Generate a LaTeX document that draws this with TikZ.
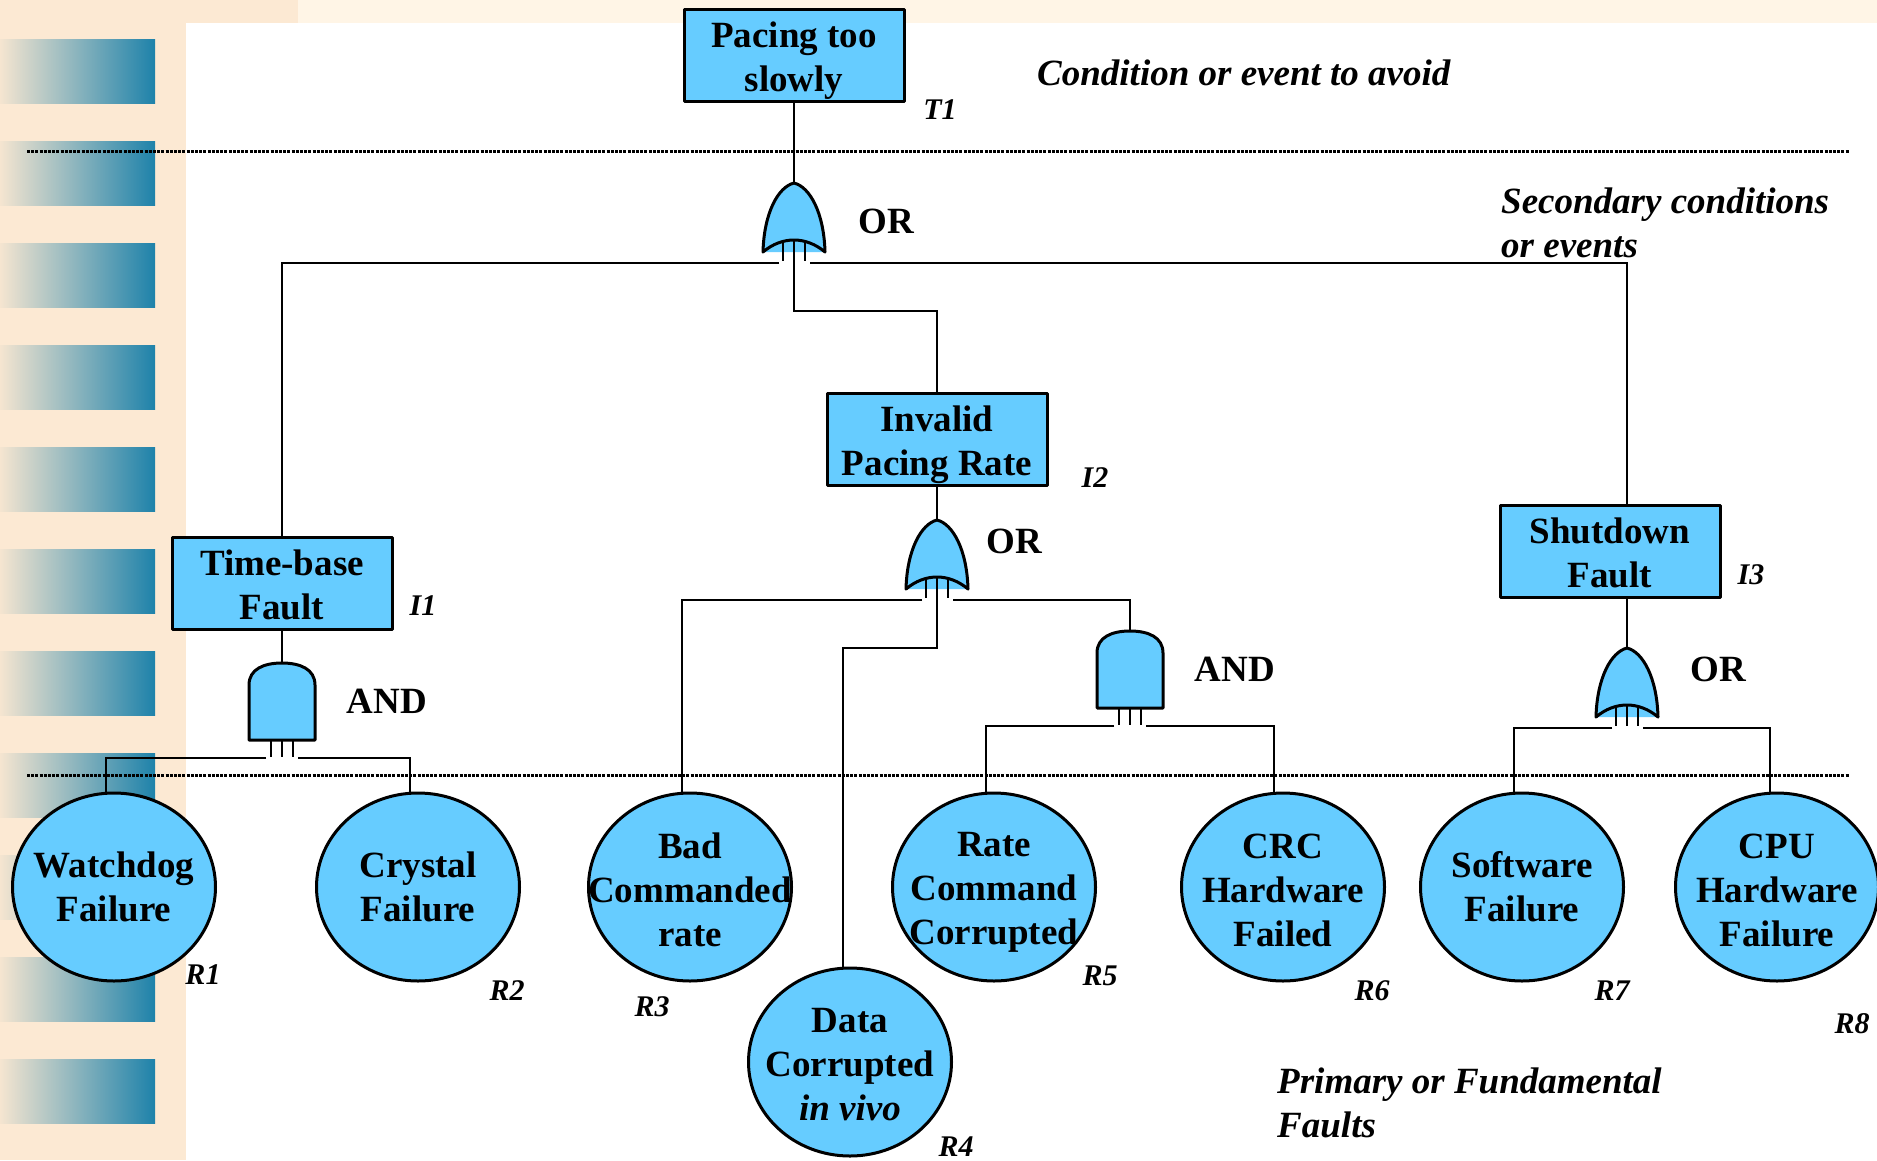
\documentclass[tikz,border=0pt]{standalone}
\usepackage{fontspec}
\setmainfont{Liberation Serif}
\usetikzlibrary{calc,shapes.geometric}

\definecolor{peach}{HTML}{FCE9D3}
\definecolor{cream}{HTML}{FFF5E6}
\definecolor{barleft}{HTML}{F5E5D0}
\definecolor{barmid}{HTML}{ADB9BB}
\definecolor{barright}{HTML}{1E82AA}
\definecolor{evfill}{HTML}{66CCFF}

\tikzset{
  wire/.style={line width=2.2pt},
  outline/.style={line width=3pt, line join=round},
  eventbox/.style={draw, outline, fill=evfill, minimum width=220pt, minimum height=92pt,
    inner sep=0pt},
  basicev/.style={draw, ellipse, outline, fill=evfill, minimum width=203pt,
    minimum height=188pt, inner sep=0pt},
  evtext/.style={inner sep=0pt, align=center, font=\bfseries\fontsize{37}{44}\selectfont},
  tag/.style={inner sep=0pt, font=\bfseries\itshape\fontsize{30}{36}\selectfont},
  gatename/.style={inner sep=0pt, font=\bfseries\fontsize{37}{44}\selectfont},
  note/.style={inner sep=0pt, anchor=west, align=left,
    font=\bfseries\itshape\fontsize{37}{44}\selectfont},
  levelline/.style={line width=3pt, dash pattern=on 3pt off 1.2pt},
  % OR gate, apex at the pic origin
  orgate/.pic={
    \fill[evfill] (-31,69) .. controls (-30,30) and (-16,4) .. (0,0)
      .. controls (16,4) and (30,30) .. (31,69) -- cycle;
    \draw[outline] (-31,69) .. controls (-30,30) and (-16,4) .. (0,0)
      .. controls (16,4) and (30,30) .. (31,69)
      .. controls (12,53) and (-12,53) .. cycle;
    \draw[wire] (-11,57) -- (-11,78) (0,57) -- (0,78) (11,57) -- (11,78);
    \coordinate (-in) at (0,0);
    \coordinate (-c) at (0,78);
    \coordinate (-l) at (-15,80);
    \coordinate (-r) at (16,80);
  },
  % AND gate, apex at the pic origin
  andgate/.pic={
    \draw[outline, fill=evfill] (-33,77) -- (-33,22) .. controls (-33,6) and (-18,0) .. (0,0)
      .. controls (18,0) and (33,6) .. (33,22) -- (33,77) -- cycle;
    \draw[wire] (-11,77) -- (-11,94) (0,77) -- (0,94) (11,77) -- (11,94);
    \coordinate (-in) at (0,0);
    \coordinate (-l) at (-16,95);
    \coordinate (-r) at (16,95);
  },
}

\begin{document}
\begin{tikzpicture}[x=1pt,y=-1pt]
\useasboundingbox (0,0) rectangle (1877,1160);

% page background
\fill[white] (0,0) rectangle (1877,1160);
\fill[peach] (0,0) rectangle (186,1160);
\fill[peach] (0,0) rectangle (298,23);
\fill[cream] (298,0) rectangle (1877,23);
\foreach \k in {0,...,11}
  \shade[left color=barleft, middle color=barmid, right color=barright]
    (0,{39+102*\k}) rectangle (155,{103+102*\k});

% level separators
\draw[levelline] (27,151) -- (1849,151);
\draw[levelline] (27,775) -- (1849,775);

% events
\node[eventbox, label={[evtext, yshift=-6pt]center:Pacing too\\slowly}] (T1) at (794,55) {};
\node[eventbox, label={[evtext, yshift=-6pt]center:Invalid\\Pacing Rate}] (I2) at (937,439) {};
\node[eventbox, label={[evtext, yshift=-2pt]center:Time-base\\Fault}] (I1) at (282,583) {};
\node[eventbox, label={[evtext, yshift=-2pt]center:Shutdown\\Fault}] (I3) at (1610,551) {};

% gates
\pic (g1) at (794,183) {orgate};
\pic (g2) at (937,520) {orgate};
\pic (g3) at (1627,648) {orgate};
\pic (a1) at (282,663) {andgate};
\pic (a2) at (1130,631) {andgate};

% basic faults
\node[basicev] (R1) at (114,887) {};
\node[basicev] (R2) at (418,887) {};
\node[basicev] (R3) at (690,887) {};
\node[basicev] (R4) at (850,1062) {};
\node[basicev] (R5) at (994,887) {};
\node[basicev] (R6) at (1283,887) {};
\node[basicev] (R7) at (1522,887) {};
\node[basicev] (R8) at (1777,887) {};

\node[evtext] (R1t) at (R1) {Watchdog\\Failure};
\node[evtext] (R2t) at (R2) {Crystal\\Failure};
\node[evtext, yshift=-3pt] (R3t) at (R3) {Bad\\Commanded\\rate};
\node[evtext, yshift=-3pt] (R4t) at (R4) {Data\\Corrupted\\\textit{in vivo}};
\node[evtext, yshift=-5pt] (R5t) at (R5) {Rate\\Command\\Corrupted};
\node[evtext, yshift=-3pt] (R6t) at (R6) {CRC\\Hardware\\Failed};
\node[evtext] (R7t) at (R7) {Software\\Failure};
\node[evtext, yshift=-3pt] (R8t) at (R8) {CPU\\Hardware\\Failure};

% connectors
\draw[wire] (T1.south) -- (g1-in);
\draw[wire] (g1-l) -| (I1.north);
\draw[wire] (g1-r) -| (I3.north -| g3-in);
\draw[wire] (g1-c) -- ++(0,50) -| (I2.north);
\draw[wire] (I2.south) -- (g2-in);
\draw[wire] (g2-l) -| ($(R3.north)+(-8,0)$);
\draw[wire] (g2-r) -| (a2-in);
\draw[wire] (g2-c) -- ++(0,50) -| ($(R4.north)+(-7,0)$);
\draw[wire] (I1.south) -- (a1-in);
\draw[wire] (a1-l) -| ($(R1.north)+(-8,0)$);
\draw[wire] (a1-r) -| ($(R2.north)+(-8,0)$);
\draw[wire] (a2-l) -| ($(R5.north)+(-8,0)$);
\draw[wire] (a2-r) -| ($(R6.north)+(-9,0)$);
\draw[wire] (I3.south -| g3-in) -- (g3-in);
\draw[wire] (g3-l) -| ($(R7.north)+(-8,0)$);
\draw[wire] (g3-r) -| ($(R8.north)+(-7,0)$);

% gate names
\node[gatename] (o1) at (886,221) {OR};
\node[gatename] (o2) at (1014,541) {OR};
\node[gatename] (o3) at (1718,669) {OR};
\node[gatename] (n1) at (387,701) {AND};
\node[gatename] (n2) at (1235,669) {AND};

% identifiers
\node[tag] (tT1) at (940,110) {T1};
\node[tag] (tI1) at (423,606) {I1};
\node[tag] (tI2) at (1095,478) {I2};
\node[tag] (tI3) at (1751,575) {I3};
\node[tag] (tR1) at (203,975) {R1};
\node[tag] (tR2) at (507,991) {R2};
\node[tag] (tR3) at (652,1007) {R3};
\node[tag] (tR4) at (956,1147) {R4};
\node[tag] (tR5) at (1100,976) {R5};
\node[tag] (tR6) at (1372,991) {R6};
\node[tag] (tR7) at (1612,991) {R7};
\node[tag] (tR8) at (1852,1024) {R8};

% level notes
\node[note] (top) at (1037,73) {Condition or event to avoid};
\node[note] (mid) at (1501,223) {Secondary conditions\\or events};
\node[note] (bot) at (1277,1103) {Primary or Fundamental\\Faults};
\end{tikzpicture}
\end{document}
